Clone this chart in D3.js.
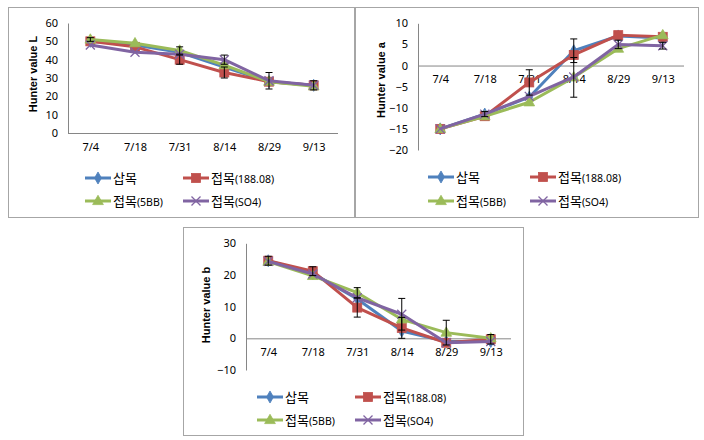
<!DOCTYPE html>
<html><head><meta charset="utf-8">
<script src="https://cdn.jsdelivr.net/npm/d3@7"></script>
<style>body{margin:0;background:#fff}svg{display:block}</style>
</head><body>
<svg id="c" width="704" height="440"></svg>
<script>
// ---- data ----
const categories = ["7/4","7/18","7/31","8/14","8/29","9/13"];
const seriesNames = ["삽목","접목(188.08)","접목(5BB)","접목(SO4)"];
const colors = ["#4F81BD","#C0504D","#9BBB59","#8064A2"];
const markers = ["diamond","square","triangle","x"];

// Hunter value L
const lSap  = [50, 48, 44, 36, 28, 26];
const l188  = [50, 47, 40, 33, 28, 26];
const l5bb  = [51, 49, 45, 37, 28, 25.5];
const lSo4  = [48, 44, 43, 40, 28.5, 26];
const lErrSap = [0, 0, 0, 0, 0, 0];
const lErr188 = [0, 0, 2.5, 3, 0, 2.5];
const lErr5bb = [1, 0, 2, 0, 0, 0];
const lErrSo4 = [0, 0, 0, 2.5, 4.5, 0];
const lTicks = [0,10,20,30,40,50,60];

// Hunter value a
const aSap  = [-15, -11.5, -7.5, 3.5, 7, 6.5];
const a188  = [-15, -12, -4, 2.5, 7.2, 6.8];
const a5bb  = [-15, -12, -8.7, -2.8, 4, 7.2];
const aSo4  = [-15, -11.5, -7.3, -2.7, 5, 4.7];
const aErrSap = [0, 0, 0, 2.8, 0, 0];
const aErr188 = [0, 0, 3, 0, 0, 0];
const aErr5bb = [0, 0, 0, 4.7, 0, 0];
const aErrSo4 = [0, 0.6, 0, 0, 1, 0.8];
const aTicks = [-20,-15,-10,-5,0,5,10];

// Hunter value b
const bSap  = [24.5, 20.5, 12.4, 2.3, -1, -1];
const b188  = [24.5, 21.2, 9.7, 3.3, -1.4, -0.3];
const b5bb  = [24.2, 19.7, 14.4, 6, 1.8, 0];
const bSo4  = [24.3, 20.3, 12.8, 7.6, -1.4, -1];
const bErrSap = [0, 0, 0, 0, 0, 0];
const bErr188 = [1.4, 1.4, 3, 3.3, 0, 1.5];
const bErr5bb = [0, 0, 1.6, 0, 3.9, 0];
const bErrSo4 = [0, 0, 0, 5, 0, 0];
const bTicks = [-10,0,10,20,30];

const panels = [
  {title:"Hunter value L", box:[8,7,354,217], x:[68,336], axisEnd:338, dom:[0,60], rng:[133,23], ticks:lTicks,
   vals:[lSap,l188,l5bb,lSo4], errs:[lErrSap,lErr188,lErr5bb,lErrSo4], titleX:33, titleY:74, legX:[85,183], legY:[178,201]},
  {title:"Hunter value a", box:[355,7,698,217], x:[418,685], axisEnd:684, dom:[-20,10], rng:[150,23.3], ticks:aTicks,
   vals:[aSap,a188,a5bb,aSo4], errs:[aErrSap,aErr188,aErr5bb,aErrSo4], titleX:381, titleY:80, legX:[428,530], legY:[177,201]},
  {title:"Hunter value b", box:[183,227,523,435], x:[246,513], axisEnd:511, dom:[-10,30], rng:[370,243.3], ticks:bTicks,
   vals:[bSap,b188,b5bb,bSo4], errs:[bErrSap,bErr188,bErr5bb,bErrSo4], titleX:206, titleY:305, legX:[257,355], legY:[397,420]}
];

const svg = d3.select("#c");
const numFont = "'Noto Sans', 'DejaVu Sans', sans-serif";
const krFont = "'Noto Sans CJK KR', sans-serif";

function drawMarker(g, type, x, y, color) {
  if (type === "diamond") {
    g.append("path").attr("d", d3.symbol(d3.symbolDiamond, 42)()).attr("transform",`translate(${x},${y})`)
      .attr("fill", color).attr("stroke", color).attr("stroke-width",0.8);
  } else if (type === "square") {
    g.append("rect").attr("x", x-4.5).attr("y", y-4.5).attr("width",9).attr("height",9)
      .attr("fill", color).attr("stroke", color).attr("stroke-width",0.8);
  } else if (type === "triangle") {
    g.append("path").attr("d", d3.symbol(d3.symbolTriangle, 50)()).attr("transform",`translate(${x},${y+0.5})`)
      .attr("fill", color).attr("stroke", color).attr("stroke-width",0.8);
  } else {
    g.append("path").attr("d", `M${x-4.5},${y-4.5}L${x+4.5},${y+4.5}M${x-4.5},${y+4.5}L${x+4.5},${y-4.5}`)
      .attr("stroke", color).attr("stroke-width",1.3);
  }
}

panels.forEach(p => {
  const g = svg.append("g");
  const [bx0,by0,bx1,by1] = p.box;
  g.append("rect").attr("x",bx0+0.5).attr("y",by0+0.5).attr("width",bx1-bx0).attr("height",by1-by0)
    .attr("fill","#fff").attr("stroke","#a6a6a6").attr("stroke-width",1);

  const x = d3.scalePoint().domain(categories).range(p.x).padding(0.5);
  const y = d3.scaleLinear().domain(p.dom).range(p.rng);

  // y axis
  const yAxis = d3.axisLeft(y).tickValues(p.ticks).tickSize(0).tickPadding(10).tickFormat(d3.format("d"));
  const ya = g.append("g").attr("transform",`translate(${p.x[0]},0)`).call(yAxis);
  ya.select(".domain").attr("stroke","#868686");
  ya.selectAll("text").attr("font-family",numFont).attr("font-size",11).attr("fill","#000");

  // x axis at zero
  const xa = g.append("g").attr("transform",`translate(0,${y(0)})`)
    .call(d3.axisBottom(x).tickSize(0).tickPadding(10));
  xa.select(".domain").attr("d",`M${p.x[0]},0.5H${p.axisEnd}`).attr("stroke","#868686");
  xa.selectAll("text").attr("font-family",numFont).attr("font-size",11).attr("fill","#000");

  // title
  g.append("text").attr("transform",`translate(${p.titleX+4},${p.titleY}) rotate(-90)`)
    .attr("text-anchor","middle").attr("font-family","'Liberation Sans', Arial, sans-serif")
    .attr("font-weight","bold").attr("font-size",11).text(p.title);

  // lines & markers
  const line = d3.line().x((d,i)=>x(categories[i])).y(d=>y(d));
  p.vals.forEach((vals, si) => {
    g.append("path").datum(vals).attr("d", line).attr("fill","none")
      .attr("stroke", colors[si]).attr("stroke-width",3).attr("stroke-linejoin","round");
    vals.forEach((v,i) => drawMarker(g, markers[si], x(categories[i]), y(v), colors[si]));
  });

  // error bars
  p.vals.forEach((vals, si) => {
    vals.forEach((v,i) => {
      const e = p.errs[si][i];
      if (!e) return;
      const cx = x(categories[i]);
      const t = y(v+e), b = y(v-e);
      g.append("path").attr("d",`M${cx},${t}V${b}M${cx-3.5},${t}H${cx+3.5}M${cx-3.5},${b}H${cx+3.5}`)
        .attr("stroke","#000").attr("stroke-width",1).attr("fill","none");
    });
  });

  // legend
  seriesNames.forEach((name, si) => {
    const lx = p.legX[si % 2], ly = p.legY[Math.floor(si/2)];
    g.append("line").attr("x1",lx).attr("x2",lx+26).attr("y1",ly).attr("y2",ly)
      .attr("stroke",colors[si]).attr("stroke-width",3);
    drawMarker(g, markers[si], lx+13, ly, colors[si]);
    const m = name.match(/^([^(]+)(\(.*\))?$/);
    const t = g.append("text").attr("x",lx+28).attr("y",ly+4.5).attr("font-family",krFont).attr("font-size",13);
    t.append("tspan").text(m[1]);
    if (m[2]) t.append("tspan").attr("font-family",numFont).attr("font-size",10.5).text(m[2]);
  });
});
</script>
</body></html>
